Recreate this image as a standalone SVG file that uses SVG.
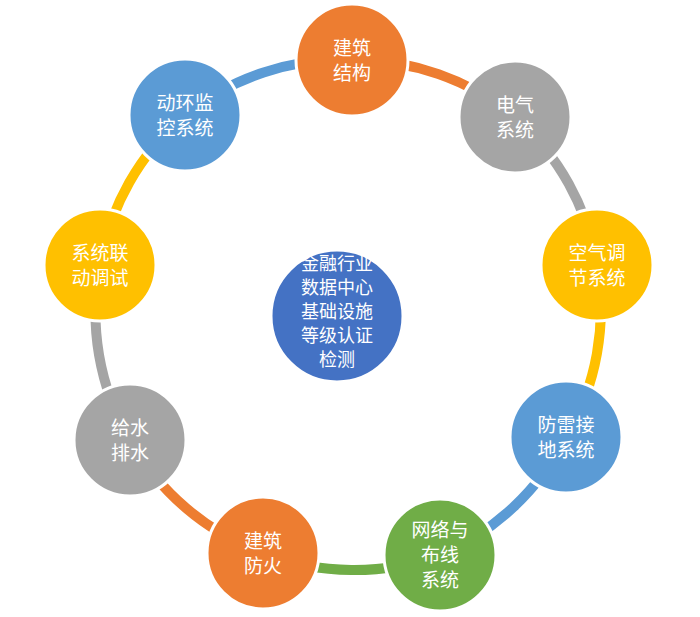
<svg xmlns="http://www.w3.org/2000/svg" width="700" height="617" viewBox="0 0 700 617">
<style>
.n{stroke:#fff;stroke-width:3}
.t{fill:#fff;font-family:"Noto Sans CJK SC",sans-serif;font-size:19px;text-anchor:middle}
.c{fill:#fff;font-family:"Noto Sans CJK SC",sans-serif;font-size:18px;text-anchor:middle}
.a{fill:none;stroke-width:10}
</style>
<rect width="700" height="617" fill="#fff"/>
<g id="connectors">
<path class="a" stroke="#ED7D31" d="M352,60 A252,252 0 0 1 515,117"/>
<path class="a" stroke="#A5A5A5" d="M515,117 A252,252 0 0 1 597,265"/>
<path class="a" stroke="#FFC000" d="M597,265 A252,252 0 0 1 566,437"/>
<path class="a" stroke="#5B9BD5" d="M566,437 A252,252 0 0 1 440,555"/>
<path class="a" stroke="#70AD47" d="M440,555 A252,252 0 0 1 263,553"/>
<path class="a" stroke="#ED7D31" d="M263,553 A252,252 0 0 1 130,440"/>
<path class="a" stroke="#A5A5A5" d="M130,440 A252,252 0 0 1 100,265"/>
<path class="a" stroke="#FFC000" d="M100,265 A252,252 0 0 1 185,115"/>
<path class="a" stroke="#5B9BD5" d="M185,115 A252,252 0 0 1 352,60"/>
</g>
<g id="n1"><circle class="n" cx="352" cy="60" r="56" fill="#ED7D31"/><text class="t" x="352" y="55">建筑</text><text class="t" x="352" y="80">结构</text></g>
<g id="n2"><circle class="n" cx="515" cy="117" r="56" fill="#A5A5A5"/><text class="t" x="515" y="112">电气</text><text class="t" x="515" y="137">系统</text></g>
<g id="n3"><circle class="n" cx="597" cy="265" r="56" fill="#FFC000"/><text class="t" x="597" y="260">空气调</text><text class="t" x="597" y="285">节系统</text></g>
<g id="n4"><circle class="n" cx="566" cy="437" r="56" fill="#5B9BD5"/><text class="t" x="566" y="432">防雷接</text><text class="t" x="566" y="457">地系统</text></g>
<g id="n5"><circle class="n" cx="440" cy="555" r="56" fill="#70AD47"/><text class="t" x="440" y="537">网络与</text><text class="t" x="440" y="562">布线</text><text class="t" x="440" y="587">系统</text></g>
<g id="n6"><circle class="n" cx="263" cy="553" r="56" fill="#ED7D31"/><text class="t" x="263" y="548">建筑</text><text class="t" x="263" y="573">防火</text></g>
<g id="n7"><circle class="n" cx="130" cy="440" r="56" fill="#A5A5A5"/><text class="t" x="130" y="435">给水</text><text class="t" x="130" y="460">排水</text></g>
<g id="n8"><circle class="n" cx="100" cy="265" r="56" fill="#FFC000"/><text class="t" x="100" y="260">系统联</text><text class="t" x="100" y="285">动调试</text></g>
<g id="n9"><circle class="n" cx="185" cy="115" r="56" fill="#5B9BD5"/><text class="t" x="185" y="110">动环监</text><text class="t" x="185" y="135">控系统</text></g>
<g id="center"><circle class="n" cx="337" cy="316" r="66" fill="#4472C4"/>
<text class="c" x="337" y="270">金融行业</text><text class="c" x="337" y="294">数据中心</text><text class="c" x="337" y="318">基础设施</text><text class="c" x="337" y="342">等级认证</text><text class="c" x="337" y="366">检测</text></g>
</svg>
